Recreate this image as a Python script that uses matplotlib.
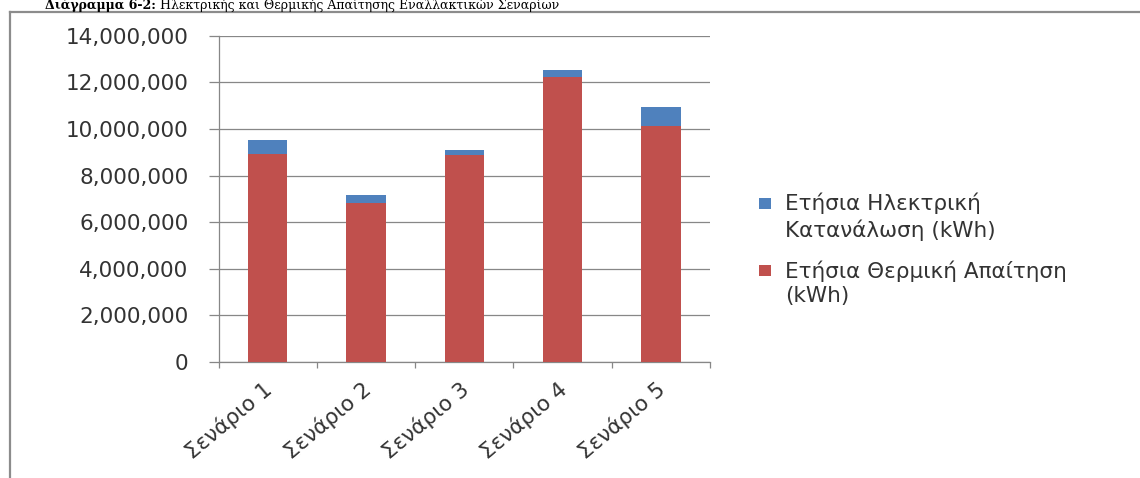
import matplotlib
matplotlib.use("Agg")
import matplotlib.pyplot as plt
import numpy as np
from matplotlib.lines import Line2D
from matplotlib.patches import Rectangle
from matplotlib.ticker import FuncFormatter, MultipleLocator
from matplotlib.transforms import ScaledTranslation

W, H = 1140, 478

scenarios = ["Σενάριο 1", "Σενάριο 2", "Σενάριο 3", "Σενάριο 4", "Σενάριο 5"]
thermal_kwh = [8_940_000, 6_810_000, 8_880_000, 12_240_000, 10_110_000]
electric_kwh = [590_000, 360_000, 230_000, 290_000, 830_000]
series_names = [
    "Ετήσια Ηλεκτρική\nΚατανάλωση (kWh)",
    "Ετήσια Θερμική Απαίτηση\n(kWh)",
]
series_colors = ["#4F81BD", "#C0504D"]
title_bold = "Διάγραμμα 6-2:"
title_rest = " Ηλεκτρικής και Θερμικής Απαίτησης Εναλλακτικών Σεναρίων"

TEXT = "#333333"
GRID = "#878787"
FS = 15.5


def fx(x):
    return x / W


def fy(y):
    return 1 - y / H


fig = plt.figure(figsize=(W / 100, H / 100), dpi=100)
fig.patch.set_facecolor("white")

ax = fig.add_axes([fx(218.5), fy(362), fx(710) - fx(218.5), fy(35.7) - fy(362)])

x = np.arange(len(scenarios))
ax.bar(x, thermal_kwh, width=0.4, color=series_colors[1], zorder=3)
ax.bar(x, electric_kwh, width=0.4, bottom=thermal_kwh, color=series_colors[0], zorder=3)

ax.set_xlim(-0.5, len(scenarios) - 0.5)
ax.set_ylim(0, 14_000_000)
ax.yaxis.set_major_locator(MultipleLocator(2_000_000))
ax.yaxis.set_major_formatter(FuncFormatter(lambda v, _: f"{int(v):,}"))
ax.grid(axis="y", color=GRID, linewidth=0.9, zorder=0)
ax.set_axisbelow(True)

for side in ("top", "right"):
    ax.spines[side].set_visible(False)
for side in ("left", "bottom"):
    ax.spines[side].set_color(GRID)
    ax.spines[side].set_linewidth(0.9)

ax.tick_params(axis="y", direction="out", length=7.5, width=0.9, color=GRID,
               pad=14, labelsize=FS, labelcolor=TEXT)

ax.set_xticks(x)
ax.set_xticklabels(scenarios)
ax.set_xticks(np.arange(-0.5, len(scenarios)), minor=True)
ax.tick_params(axis="x", which="major", length=0, pad=18, labelsize=FS, labelcolor=TEXT)
ax.tick_params(axis="x", which="minor", direction="out", length=4.5, width=0.9, color=GRID)
shift = ScaledTranslation(2 / 100, 0, fig.dpi_scale_trans)
for lab in ax.get_xticklabels():
    lab.set_rotation(40)
    lab.set_ha("right")
    lab.set_va("center")
    lab.set_rotation_mode("anchor")
    lab.set_transform(lab.get_transform() + shift)

# legend, drawn by hand so the swatch sits on the first line of each label
legend_rows = [(198, 216.4), (265, 283.3)]
for (sq_top, txt_mid), name, color in zip(legend_rows, series_names, series_colors):
    fig.patches.append(Rectangle((fx(759), fy(sq_top + 10.5)), fx(12), fy(0) - fy(10.5),
                                 transform=fig.transFigure, facecolor=color, edgecolor="none"))
    fig.text(fx(785), fy(txt_mid), name, ha="left", va="center", fontsize=FS,
             color=TEXT, linespacing=1.3)

# outer chart frame (only left and top edges fall inside the picture)
fig.lines.append(Line2D([fx(10), fx(10)], [fy(12), fy(H + 5)], transform=fig.transFigure,
                        color="#8C8C8C", linewidth=1.6))
fig.lines.append(Line2D([fx(10), fx(W + 5)], [fy(12), fy(12)], transform=fig.transFigure,
                        color="#8C8C8C", linewidth=1.6))

# document caption above the frame, kept small so it stays inside the picture
t1 = fig.text(fx(45), fy(9), title_bold, ha="left", va="baseline", fontsize=9,
              fontweight="bold", family="DejaVu Serif", color="black")
fig.canvas.draw()
bb = t1.get_window_extent()
fig.text(bb.x1 / W, fy(9), title_rest, ha="left", va="baseline", fontsize=9,
         family="DejaVu Serif", color="black")

fig.savefig("out.png", dpi=100)
